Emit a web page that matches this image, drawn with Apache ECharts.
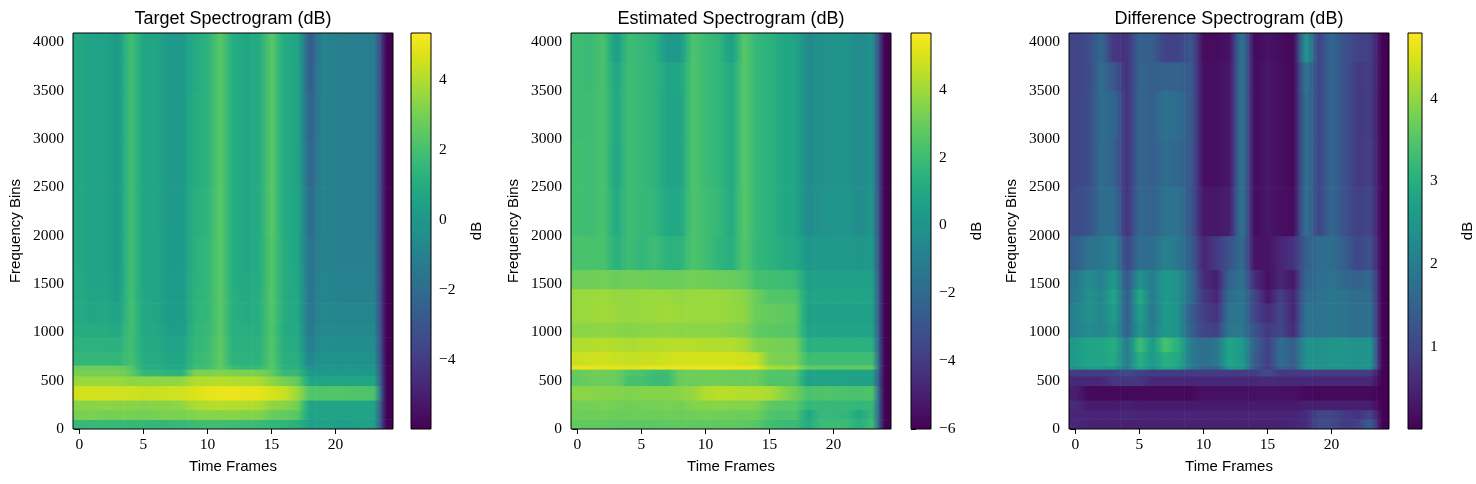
<!DOCTYPE html>
<html>
<head>
<meta charset="utf-8">
<title>Spectrograms</title>
<script src="https://cdn.jsdelivr.net/npm/echarts@6/dist/echarts.min.js"></script>
<style>
  html, body { margin: 0; padding: 0; background: #fff; }
  #chart { width: 1476px; height: 484px; }
</style>
</head>
<body>
<div id="chart"></div>
<script>
// time frames (columns) and frequency band edges (rows, in bins)
const frames = [0, 1, 2, 3, 4, 5, 6, 7, 8, 9, 10, 11, 12, 13, 14, 15, 16, 17, 18, 19, 20, 21, 22, 23, 24];
const freqEdges = [-0.5, 100, 200, 300, 450, 550, 620, 660, 800, 950, 1100, 1300, 1450, 1650, 2000, 2500, 3000, 3500, 3800, 4096.5];

const timeTicks = [0, 5, 10, 15, 20];
const freqTicks = [0, 500, 1000, 1500, 2000, 2500, 3000, 3500, 4000];

// colour limits + colorbar ticks
const targetRange = [-5.98, 5.33];
const estimatedRange = [-6.0, 5.67];
const diffRange = [0.01, 4.79];
const targetTicks = [-4, -2, 0, 2, 4];
const estimatedTicks = [-6, -4, -2, 0, 2, 4];
const diffTicks = [1, 2, 3, 4];

// one row per frequency band (low -> high), 25 frames each, dB
const targetDb = [
  [1.6,1.6,1.7,1.6,1.6,1.6,1.5,1.6,1.6,1.8,1.9,1.9,1.8,1.8,1.7,1.5,1.4,1.2,0.4,0.5,0.4,0.4,0.5,0.4,-5.98],
  [3.0,3.1,2.9,3.0,3.0,2.9,3.0,3.1,3.0,3.2,3.3,3.3,3.3,3.2,3.2,2.7,2.6,2.4,0.5,0.6,0.5,0.5,0.6,0.5,-5.98],
  [3.3,3.3,3.4,3.3,3.3,3.2,3.3,3.3,3.4,3.9,4.0,4.1,4.0,4.0,3.9,3.4,3.3,2.9,0.6,0.6,0.6,0.6,0.6,0.6,-5.98],
  [4.5,4.6,4.5,4.5,4.5,4.4,4.4,4.5,4.5,4.7,4.9,5.0,5.0,4.9,4.9,4.6,4.4,3.6,2.2,2.2,2.3,2.2,2.2,2.1,-5.98],
  [3.6,3.6,3.6,3.6,3.4,3.4,3.4,3.4,3.5,4.0,4.0,4.1,4.0,4.0,3.9,3.4,3.0,2.6,0.7,0.7,0.7,0.7,0.7,0.7,-5.98],
  [3.0,3.0,3.0,3.0,2.6,1.5,1.5,1.3,1.3,3.1,3.1,3.2,3.1,3.1,3.0,2.6,1.6,1.6,0.1,0.1,0.1,0.1,0.1,0.1,-5.98],
  [2.8,2.8,2.8,2.8,2.4,1.1,1.1,0.8,0.8,1.8,1.9,2.5,1.7,1.6,1.6,2.4,1.2,1.2,-0.2,-0.1,-0.1,-0.1,-0.1,-0.1,-5.98],
  [1.5,1.5,1.5,1.4,2.0,1.0,1.0,0.7,0.7,1.6,1.8,2.5,1.3,1.3,1.3,2.3,1.1,1.1,-0.8,-0.2,-0.3,-0.3,-0.3,-0.3,-5.98],
  [1.3,1.3,1.3,1.2,1.9,0.9,0.9,0.5,0.5,1.5,1.7,2.5,1.2,1.2,1.2,2.3,1.0,1.0,-1.2,-0.4,-0.5,-0.5,-0.5,-0.5,-5.98],
  [1.0,1.0,1.0,0.8,1.9,0.8,0.8,0.3,0.3,1.4,1.6,2.4,1.1,1.1,1.1,2.2,0.9,0.9,-1.5,-0.6,-0.7,-0.7,-0.7,-0.7,-5.98],
  [0.9,0.7,0.8,0.5,1.9,0.8,0.7,0.2,0.2,1.3,1.5,2.4,1.1,0.9,1.1,2.3,1.0,0.8,-1.6,-0.7,-0.85,-0.85,-0.85,-0.85,-5.98],
  [0.9,0.6,0.7,0.3,1.9,0.75,0.7,0.2,0.2,1.3,1.5,2.4,1.1,0.9,1.1,2.3,1.0,0.8,-1.65,-0.75,-0.95,-0.95,-0.95,-0.95,-5.98],
  [0.85,0.5,0.6,0.2,1.9,0.7,0.7,0.15,0.2,1.25,1.5,2.4,1.0,0.8,1.0,2.3,1.0,0.75,-1.7,-0.8,-1.0,-1.0,-1.0,-1.0,-5.98],
  [0.8,0.5,0.5,0.15,1.9,0.7,0.7,0.15,0.15,1.2,1.5,2.4,1.0,0.7,1.0,2.3,1.0,0.7,-1.8,-0.9,-1.05,-1.1,-1.1,-1.1,-5.98],
  [0.8,0.5,0.5,0.15,1.9,0.7,0.65,0.1,0.15,1.1,1.4,2.4,1.0,0.7,1.0,2.4,0.9,0.7,-2.0,-0.9,-1.1,-1.15,-1.15,-1.2,-5.98],
  [0.8,0.5,0.5,0.15,1.9,0.7,0.65,0.1,0.1,1.0,1.3,2.4,1.0,0.7,1.0,2.4,0.9,0.7,-2.3,-0.9,-1.1,-1.15,-1.15,-1.2,-5.98],
  [0.8,0.5,0.5,0.15,1.9,0.7,0.65,0.1,0.1,1.0,1.3,2.4,1.0,0.7,1.0,2.4,0.9,0.7,-2.5,-0.9,-1.1,-1.15,-1.15,-1.2,-5.98],
  [0.8,0.5,0.5,0.15,1.9,0.7,0.65,0.1,0.1,0.9,1.3,2.4,1.0,0.7,1.0,2.4,0.9,0.7,-2.7,-0.9,-1.1,-1.15,-1.15,-1.2,-5.98],
  [0.8,0.5,0.5,0.15,1.9,0.7,0.65,0.1,0.1,0.9,1.3,2.4,1.0,0.7,1.0,2.4,0.9,0.7,-2.9,-0.9,-1.1,-1.15,-1.15,-1.2,-5.98]
];

const estimatedDb = [
  [2.8,2.8,2.8,2.7,2.7,2.7,2.7,2.8,2.8,2.8,2.8,2.8,2.8,2.7,2.6,2.1,1.9,1.9,1.2,1.9,2.0,1.9,1.3,2.0,-6],
  [3.1,3.0,3.1,3.0,3.0,3.1,3.0,3.1,3.0,3.1,3.2,3.1,3.1,3.0,3.0,2.4,2.3,2.4,0.9,1.8,1.8,1.7,1.0,1.8,-6],
  [3.2,3.2,3.3,3.2,3.1,3.2,3.2,3.3,3.2,3.5,3.5,3.6,3.5,3.5,3.4,2.7,2.6,2.6,1.7,1.8,1.8,1.8,1.7,1.8,-6],
  [3.6,3.6,3.5,3.5,3.4,3.5,3.5,3.5,3.6,3.8,4.3,4.4,4.4,4.3,4.3,4.2,3.6,3.1,2.3,2.4,2.4,2.3,2.3,2.4,-6],
  [2.8,3.0,3.0,3.0,2.2,2.2,1.9,1.9,3.0,3.0,3.1,3.1,3.0,3.0,3.0,2.4,2.4,2.4,0.6,0.7,0.7,0.7,0.6,0.7,-6],
  [2.9,3.1,3.1,3.0,2.4,2.4,2.0,2.0,3.0,3.1,3.1,3.1,3.0,3.0,3.0,2.5,2.5,2.5,0.7,0.8,0.8,0.8,0.7,0.8,-6],
  [5.3,5.3,5.2,5.2,5.1,5.2,5.3,5.3,5.3,5.3,5.4,5.4,5.4,5.3,5.2,4.2,4.0,4.0,2.8,2.8,2.8,2.8,2.8,2.8,-6],
  [4.7,4.8,4.8,4.7,4.6,4.7,4.7,4.8,4.9,4.9,4.9,4.9,4.9,4.8,4.6,3.4,3.3,3.3,2.0,2.0,2.0,2.0,2.0,2.0,-6],
  [4.3,4.3,4.4,4.3,4.2,4.3,4.3,4.4,4.4,4.4,4.3,4.3,4.3,4.1,3.4,3.3,3.2,3.2,1.4,1.4,1.4,1.4,1.4,1.4,-6],
  [3.6,3.6,3.7,3.6,3.5,3.6,3.6,3.7,3.6,3.6,3.6,3.6,3.5,3.4,2.8,2.7,2.6,2.6,0.8,0.8,0.8,0.8,0.8,0.8,-6],
  [3.9,3.9,4.0,3.9,3.8,3.9,3.9,4.0,3.9,3.9,3.9,3.9,3.8,3.7,3.0,2.9,2.8,2.7,0.6,0.6,0.6,0.6,0.6,0.6,-6],
  [3.9,3.9,4.0,3.8,3.8,3.9,3.9,3.9,3.8,3.9,3.9,3.9,3.8,3.6,3.0,2.5,2.5,2.4,0.8,0.8,0.8,0.8,0.8,0.8,-6],
  [3.1,3.1,3.2,3.0,3.1,3.1,3.0,3.0,3.0,3.2,3.1,3.0,3.0,2.8,2.1,2.1,2.0,1.9,0.6,0.6,0.6,0.6,0.6,0.6,-6],
  [2.3,2.3,2.3,1.4,2.0,1.7,2.0,1.5,1.5,2.4,2.1,1.6,1.3,2.5,1.7,1.5,1.2,1.0,0.1,0.3,0.3,0.3,0.1,0.3,-6],
  [2.1,2.0,2.3,1.1,2.0,1.8,1.7,1.0,1.0,2.4,2.0,1.8,1.1,2.6,1.7,1.5,1.0,0.8,-0.4,-0.1,0.1,0.1,-0.4,0.0,-6],
  [2.1,2.0,2.3,0.9,2.0,1.8,1.6,0.8,0.8,2.4,1.9,1.7,1.0,2.6,1.7,1.5,1.0,0.8,-0.5,-0.2,0.0,0.0,-0.5,-0.1,-6],
  [2.0,2.0,2.3,1.0,2.0,1.8,1.6,0.8,0.8,2.4,1.9,1.7,1.0,2.6,1.7,1.5,1.0,0.8,-0.5,-0.2,0.0,0.0,-0.5,-0.1,-6],
  [2.0,1.9,2.3,0.9,2.0,1.8,1.6,0.9,0.9,2.4,1.9,1.7,1.0,2.6,1.7,1.5,1.0,0.8,-0.5,-0.2,0.0,0.0,-0.5,-0.1,-6],
  [2.0,1.9,2.3,0.4,2.0,1.8,1.5,0.3,0.3,2.4,1.9,1.7,0.5,2.6,1.7,1.5,1.0,0.8,-0.5,-0.2,0.0,0.0,-0.5,-0.1,-6]
];

const diffDb = [
  [0.55,0.45,0.45,0.45,0.45,0.45,0.45,0.45,0.45,0.45,0.45,0.45,0.45,0.45,0.45,0.45,0.45,0.5,0.6,1.1,1.1,0.8,0.9,1.4,0.01],
  [0.5,0.5,0.5,0.5,0.55,0.5,0.5,0.5,0.5,0.5,0.5,0.5,0.5,0.5,0.5,0.5,0.5,0.5,0.6,1.0,1.0,0.8,0.7,1.0,0.01],
  [0.6,0.35,0.35,0.35,0.4,0.35,0.35,0.35,0.35,0.35,0.35,0.35,0.35,0.35,0.35,0.35,0.35,0.35,0.4,0.4,0.4,0.4,0.4,0.4,0.01],
  [0.4,0.12,0.12,0.12,0.12,0.12,0.12,0.12,0.12,0.12,0.22,0.22,0.22,0.22,0.22,0.22,0.22,0.22,0.12,0.12,0.12,0.12,0.12,0.12,0.01],
  [0.55,0.55,0.55,0.75,0.75,0.75,0.55,0.55,0.55,0.55,0.55,0.55,0.55,0.55,0.55,0.6,0.55,0.55,0.55,0.55,0.55,0.55,0.55,0.55,0.01],
  [0.85,0.85,0.85,0.9,1.1,0.9,0.85,0.85,0.85,0.85,0.85,0.8,0.85,0.85,0.85,1.1,0.8,0.8,0.85,0.85,0.85,0.85,0.85,0.85,0.01],
  [2.4,2.6,2.6,2.6,1.9,2.9,2.4,2.9,2.7,1.9,1.6,1.5,2.6,2.5,1.3,0.8,1.5,1.3,2.4,2.4,2.4,2.4,2.4,2.4,0.01],
  [2.6,2.8,2.8,2.9,2.0,3.0,2.6,3.0,2.9,2.0,1.7,1.9,2.8,2.6,1.4,0.9,1.7,1.4,2.4,2.4,2.5,2.5,2.4,2.5,0.01],
  [2.6,2.8,2.8,3.0,2.0,3.3,2.6,3.4,3.0,2.0,1.7,1.9,2.8,2.6,1.5,0.9,1.7,1.4,2.4,2.4,2.5,2.5,2.4,2.5,0.01],
  [2.1,2.3,2.2,2.5,1.5,2.5,2.0,2.6,2.4,1.5,1.0,0.9,1.9,1.9,1.2,0.8,1.0,0.6,1.8,1.8,1.9,1.8,1.7,1.8,0.01],
  [2.1,2.4,2.2,2.7,1.4,2.7,1.9,2.6,2.4,1.4,0.9,0.7,1.8,1.9,1.0,0.6,1.0,0.5,1.8,1.8,1.9,1.8,1.7,1.8,0.01],
  [2.0,2.4,2.2,2.8,1.4,2.9,2.0,2.6,2.4,1.7,0.8,0.5,1.7,1.9,1.0,0.3,0.9,0.5,1.7,1.8,1.9,1.8,1.7,1.7,0.01],
  [1.9,2.3,2.1,2.6,1.3,2.4,2.0,2.6,2.4,1.7,0.6,0.4,1.5,1.8,0.6,0.2,0.5,0.3,1.6,1.7,1.8,1.6,1.5,1.6,0.01],
  [1.45,1.8,1.9,2.1,1.0,1.7,1.7,2.1,1.9,1.45,0.5,0.8,1.2,1.7,0.25,0.25,0.5,0.7,1.45,1.7,1.7,1.45,1.0,1.2,0.01],
  [1.1,1.2,1.7,1.7,0.7,1.6,1.5,1.8,1.8,1.3,0.3,0.3,0.4,1.9,0.15,0.3,0.2,0.15,1.8,1.0,1.6,1.2,0.9,1.0,0.01],
  [1.0,1.1,1.7,1.5,0.7,1.55,1.45,1.7,1.6,1.35,0.2,0.2,0.3,1.9,0.15,0.3,0.2,0.1,1.8,1.0,1.6,1.2,0.8,0.9,0.01],
  [1.0,1.1,1.7,1.6,0.7,1.55,1.45,1.8,1.7,1.35,0.2,0.2,0.3,1.9,0.15,0.3,0.2,0.1,1.8,1.0,1.6,1.2,0.8,0.85,0.01],
  [0.97,1.06,1.68,1.3,0.68,1.54,1.44,1.5,1.5,1.35,0.2,0.2,0.3,1.92,0.15,0.3,0.2,0.1,1.9,0.97,1.59,1.2,0.82,0.87,0.01],
  [0.97,1.1,1.6,0.75,0.7,1.5,1.4,0.95,0.95,1.3,0.15,0.15,0.25,1.9,0.12,0.25,0.15,0.1,2.5,0.97,1.6,1.2,0.97,0.9,0.01]
];

// viridis colormap
const viridis = ['#440154','#471365','#482475','#463480','#414487','#3b528b','#355f8d','#2f6c8e',
  '#2a788e','#25848e','#21918c','#1e9c89','#22a884','#2fb47c','#44bf70','#5ec962','#7ad151',
  '#9bd93c','#bddf26','#dfe318','#fde725'];
const viridisRgb = viridis.map(h => [parseInt(h.slice(1, 3), 16), parseInt(h.slice(3, 5), 16), parseInt(h.slice(5, 7), 16)]);

function cmap(t) {
  t = Math.max(0, Math.min(1, t));
  const x = t * (viridisRgb.length - 1);
  const i = Math.min(Math.floor(x), viridisRgb.length - 2);
  const f = x - i;
  const a = viridisRgb[i], b = viridisRgb[i + 1];
  return 'rgb(' + [0, 1, 2].map(k => Math.round(a[k] + (b[k] - a[k]) * f)).join(',') + ')';
}

const fontSerif = "'Liberation Serif', 'DejaVu Serif', serif";
const fontSans = "'Liberation Sans', 'DejaVu Sans', sans-serif";
const minus = v => String(v).replace('-', '\u2212');
const plain = v => String(v);

const panels = [
  { title: 'Target Spectrogram (dB)', db: targetDb, range: targetRange, ticks: targetTicks, left: 73, cbLeft: 411 },
  { title: 'Estimated Spectrogram (dB)', db: estimatedDb, range: estimatedRange, ticks: estimatedTicks, left: 571, cbLeft: 911 },
  { title: 'Difference Spectrogram (dB)', db: diffDb, range: diffRange, ticks: diffTicks, left: 1069, cbLeft: 1408 }
];

const grid = [], xAxis = [], yAxis = [], series = [];

// cells get a horizontal gradient toward their neighbours (imshow smooths columns)
function cellRenderer(db, range) {
  const norm = v => (v - range[0]) / (range[1] - range[0]);
  return function (params, api) {
    const f = api.value(0), lo = api.value(1), hi = api.value(2), v = api.value(3), b = api.value(4);
    const row = db[b];
    const vl = f > 0 ? row[f - 1] : v;
    const vr = f < row.length - 1 ? row[f + 1] : v;
    const p0 = api.coord([f - 0.5, hi]);
    const p1 = api.coord([f + 0.5, lo]);
    return {
      type: 'rect',
      shape: { x: p0[0], y: p0[1], width: p1[0] - p0[0] + 0.6, height: p1[1] - p0[1] + 0.6 },
      style: {
        fill: new echarts.graphic.LinearGradient(0, 0, 1, 0, [
          { offset: 0, color: cmap(norm((vl + v) / 2)) },
          { offset: 0.5, color: cmap(norm(v)) },
          { offset: 1, color: cmap(norm((v + vr) / 2)) }
        ])
      }
    };
  };
}

function colorbarRenderer(params, api) {
  const a = api.coord([api.value(0), api.value(3)]);
  const b = api.coord([api.value(2), api.value(1)]);
  return {
    type: 'rect',
    shape: { x: a[0], y: a[1], width: b[0] - a[0], height: b[1] - a[1] },
    style: {
      fill: new echarts.graphic.LinearGradient(0, 1, 0, 0,
        viridis.map((c, k) => ({ offset: k / (viridis.length - 1), color: c })))
    }
  };
}

const tickStyle = { show: true, length: 5, lineStyle: { color: '#000', width: 1 } };
const labelStyle = { color: '#000', fontFamily: fontSerif, fontSize: 15.5 };
const nameStyle = { color: '#000', fontFamily: fontSans, fontSize: 15 };

panels.forEach((p, i) => {
  grid.push({ left: p.left, top: 33, width: 320, height: 396, show: true, borderColor: '#000', borderWidth: 1, z: 10 });
  grid.push({ left: p.cbLeft, top: 33, width: 20, height: 396, show: true, borderColor: '#000', borderWidth: 1, z: 10 });

  xAxis.push({
    gridIndex: 2 * i, type: 'value', min: -0.5, max: 24.5,
    name: 'Time Frames', nameLocation: 'middle', nameGap: 30, nameTextStyle: nameStyle,
    axisLine: { show: false }, splitLine: { show: false },
    axisTick: Object.assign({ customValues: timeTicks }, tickStyle),
    axisLabel: Object.assign({ customValues: timeTicks, margin: 8, formatter: plain }, labelStyle)
  });
  xAxis.push({
    gridIndex: 2 * i, type: 'value', position: 'top', min: -0.5, max: 24.5,
    name: p.title, nameLocation: 'middle', nameGap: 5,
    nameTextStyle: { color: '#000', fontFamily: fontSans, fontSize: 18 },
    axisLine: { show: false }, axisTick: { show: false }, axisLabel: { show: false }, splitLine: { show: false }
  });
  xAxis.push({ gridIndex: 2 * i + 1, type: 'value', min: 0, max: 1, show: false });

  yAxis.push({
    gridIndex: 2 * i, type: 'value', min: -0.5, max: 4096.5,
    name: 'Frequency Bins', nameLocation: 'middle', nameGap: 50, nameTextStyle: nameStyle,
    axisLine: { show: false }, splitLine: { show: false },
    axisTick: Object.assign({ customValues: freqTicks }, tickStyle),
    axisLabel: Object.assign({ customValues: freqTicks, margin: 9, formatter: plain }, labelStyle)
  });
  yAxis.push({
    gridIndex: 2 * i + 1, type: 'value', position: 'right', min: p.range[0], max: p.range[1],
    name: 'dB', nameLocation: 'middle', nameRotate: 90, nameGap: 38, nameTextStyle: nameStyle,
    axisLine: { show: false }, splitLine: { show: false },
    axisTick: Object.assign({ customValues: p.ticks }, tickStyle),
    axisLabel: Object.assign({ customValues: p.ticks, margin: 8, formatter: minus }, labelStyle)
  });

  const cells = [];
  p.db.forEach((row, b) => {
    frames.forEach(f => {
      cells.push([f, freqEdges[b], freqEdges[b + 1], row[f], b]);
    });
  });

  series.push({
    type: 'custom', xAxisIndex: 3 * i, yAxisIndex: 2 * i, clip: true, silent: true,
    renderItem: cellRenderer(p.db, p.range), data: cells
  });
  series.push({
    type: 'custom', xAxisIndex: 3 * i + 2, yAxisIndex: 2 * i + 1, clip: true, silent: true,
    renderItem: colorbarRenderer, data: [[0, p.range[0], 1, p.range[1]]]
  });
});

const chart = echarts.init(document.getElementById('chart'), null, { renderer: 'canvas' });
chart.setOption({
  backgroundColor: '#fff',
  animation: false,
  grid: grid,
  xAxis: xAxis,
  yAxis: yAxis,
  series: series
});

window.addEventListener('resize', function () {
  chart.resize();
});
</script>
</body>
</html>
